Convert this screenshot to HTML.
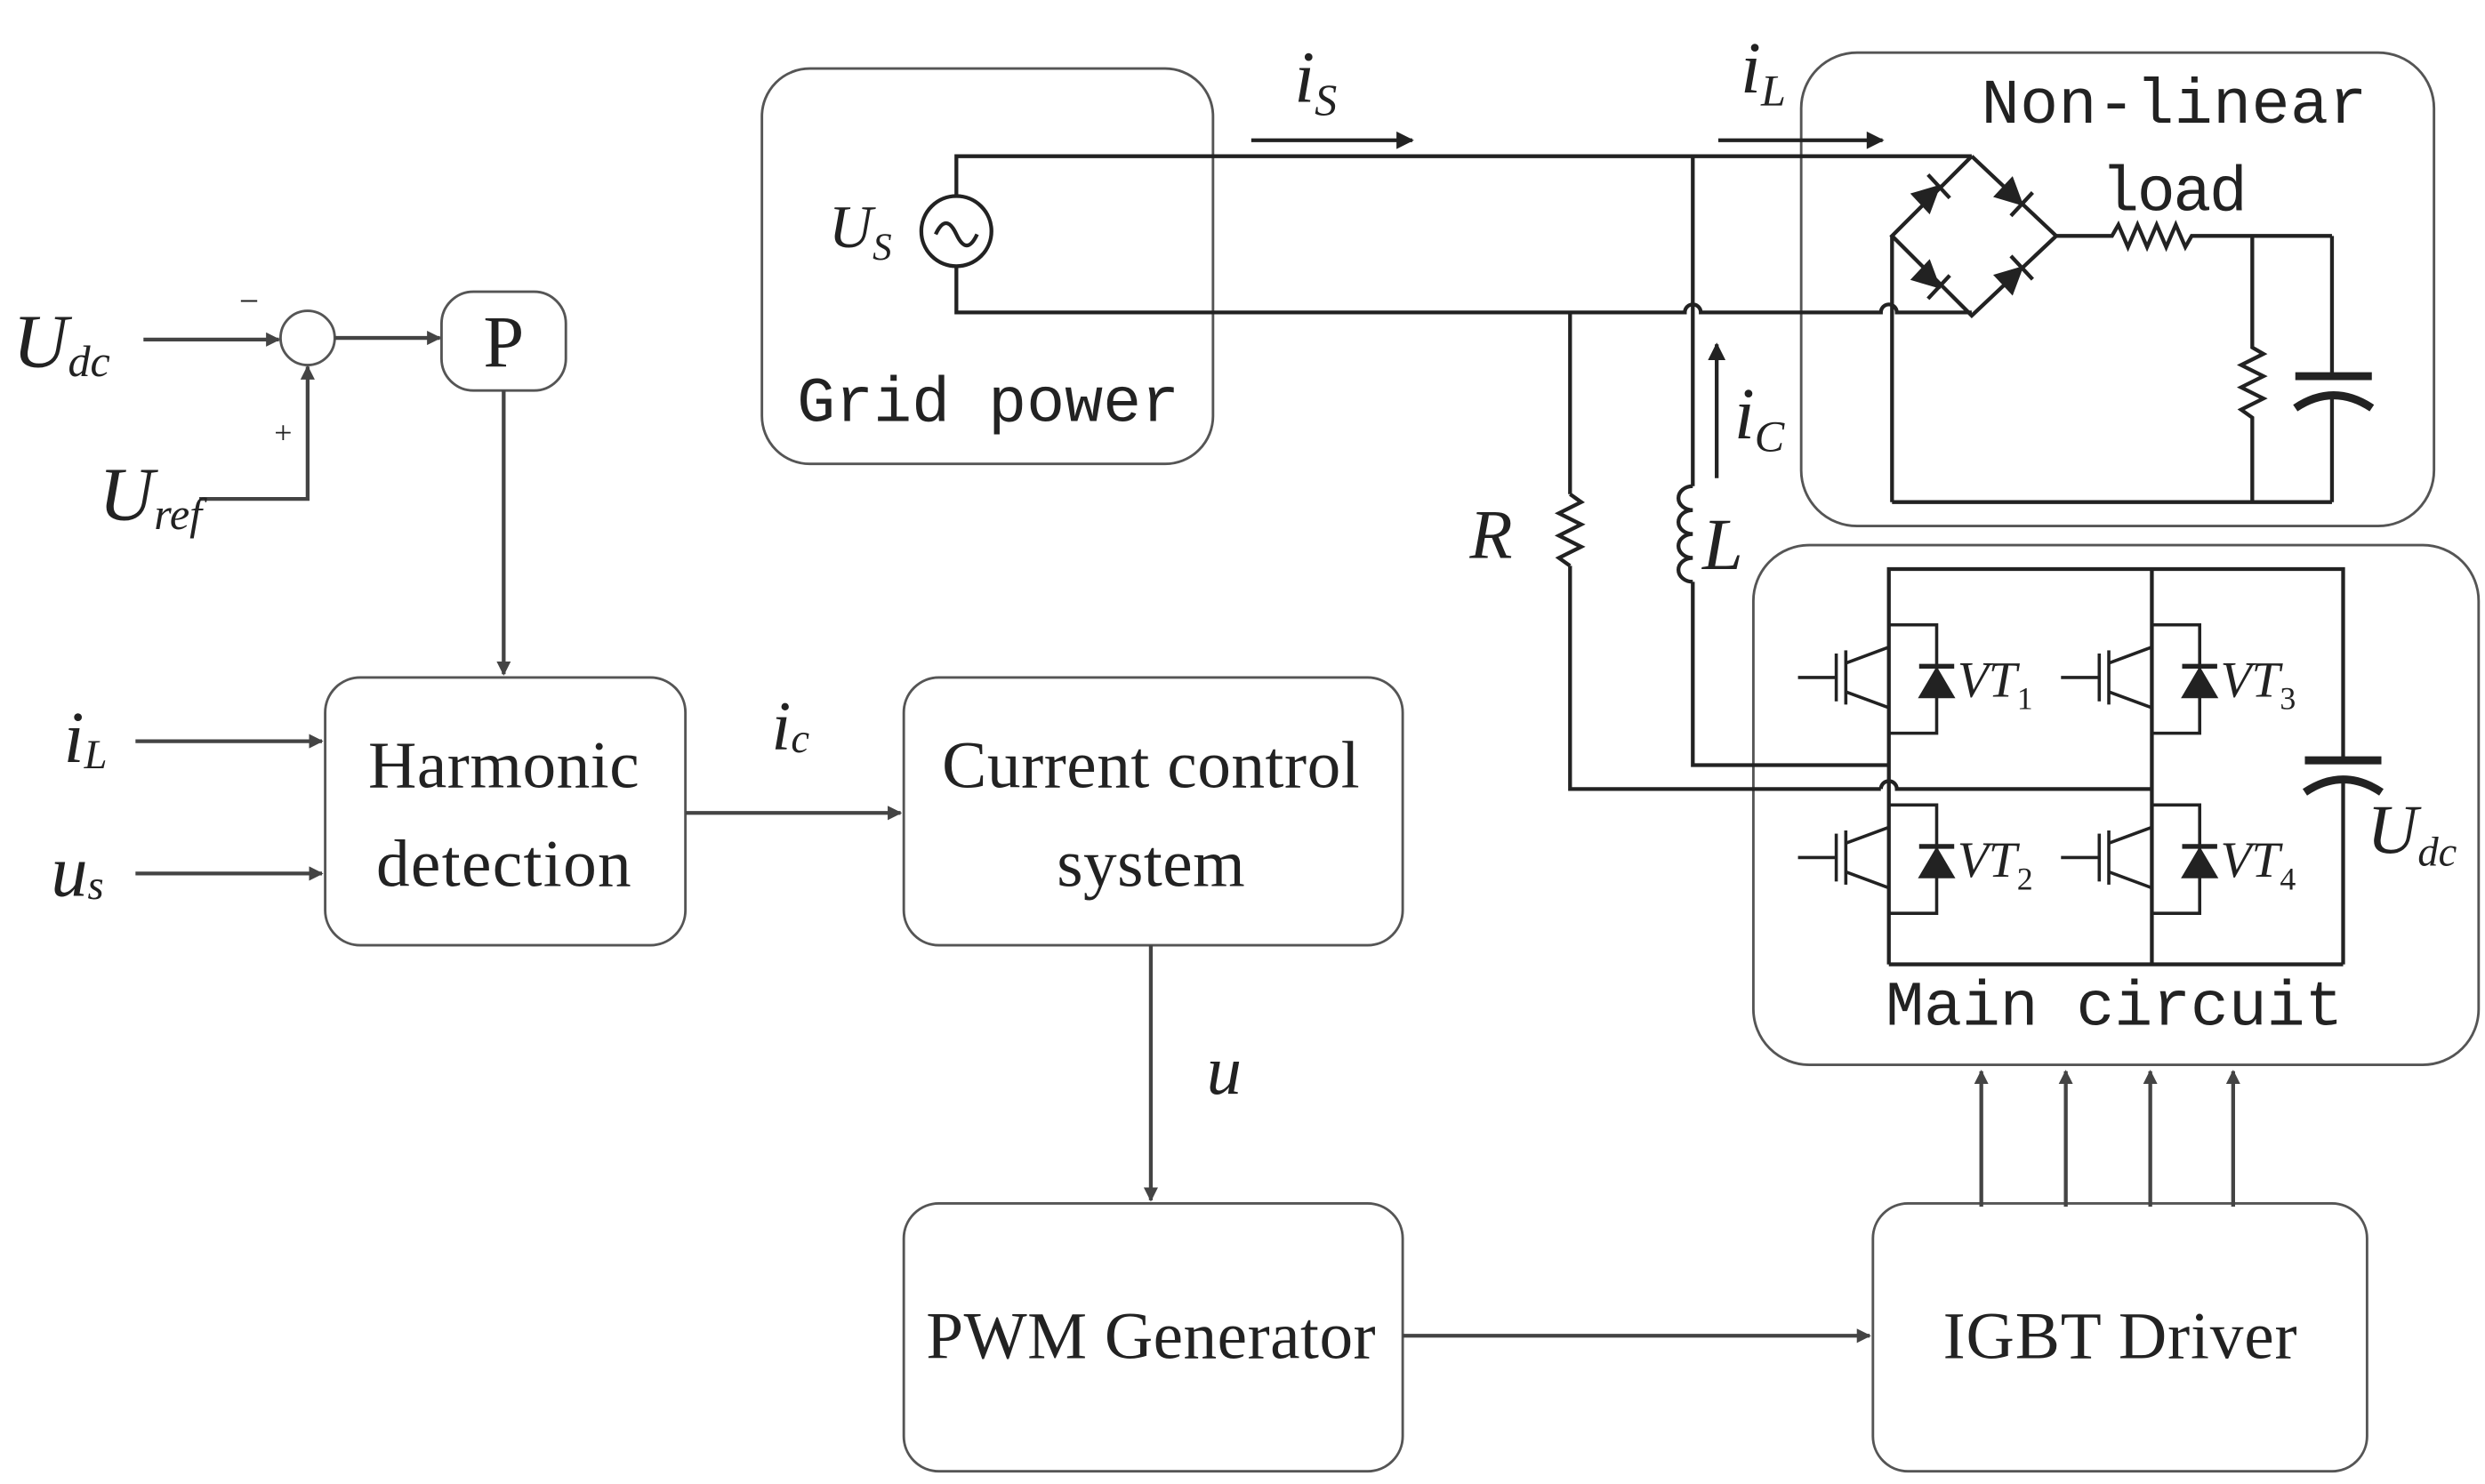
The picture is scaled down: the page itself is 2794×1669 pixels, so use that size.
<!DOCTYPE html>
<html><head><meta charset="utf-8"><style>
html,body{margin:0;padding:0;background:#fff}
svg{display:block}
.s{font-family:"Liberation Serif",serif;fill:#222}
.m{font-family:"Liberation Mono",monospace;fill:#222}
.i{font-style:italic}
</style></head><body>
<svg width="2794" height="1669" viewBox="0 0 1559 931" preserveAspectRatio="none" xmlns="http://www.w3.org/2000/svg">
<defs>
<marker id="a" viewBox="0 0 10 10" refX="9" refY="5" markerWidth="9" markerHeight="9" markerUnits="userSpaceOnUse" orient="auto"><path d="M0,0 L10,5 L0,10 z" fill="#444"/></marker>
<marker id="b" viewBox="0 0 10 10" refX="9" refY="5" markerWidth="14" markerHeight="11" markerUnits="userSpaceOnUse" orient="auto"><path d="M0,0 L10,5 L0,10 z" fill="#222"/></marker>
</defs>
<g fill="none" stroke="#555" stroke-width="1.6">
<rect x="478" y="43" width="283" height="248" rx="30"/>
<rect x="1130" y="33" width="397" height="297" rx="35"/>
<rect x="1100" y="342" width="455" height="326" rx="35"/>
<rect x="277" y="183" width="78" height="62" rx="20"/>
<rect x="204" y="425" width="226" height="168" rx="22"/>
<rect x="567" y="425" width="313" height="168" rx="22"/>
<rect x="567" y="755" width="313" height="168" rx="22"/>
<rect x="1175" y="755" width="310" height="168" rx="22"/>
<circle cx="193" cy="212" r="17"/>
</g>
<g stroke="#444" stroke-width="2.4" fill="none" marker-end="url(#a)">
<line x1="90" y1="213" x2="175" y2="213"/>
<line x1="210" y1="212" x2="276" y2="212"/>
<polyline points="125,313 193,313 193,230"/>
<line x1="316" y1="245" x2="316" y2="423"/>
<line x1="85" y1="465" x2="202" y2="465"/>
<line x1="85" y1="548" x2="202" y2="548"/>
<line x1="430" y1="510" x2="565" y2="510"/>
<line x1="722" y1="593" x2="722" y2="753"/>
<line x1="880" y1="838" x2="1173" y2="838"/>
<line x1="1243" y1="757" x2="1243" y2="672"/>
<line x1="1296" y1="757" x2="1296" y2="672"/>
<line x1="1349" y1="757" x2="1349" y2="672"/>
<line x1="1401" y1="757" x2="1401" y2="672"/>
</g>
<text x="8" y="230" class="s i" font-size="48">U<tspan font-size="28" dy="6">dc</tspan></text>
<text x="150" y="196" class="s" font-size="22">−</text>
<text x="172" y="278" class="s" font-size="20">+</text>
<text x="62" y="326" class="s i" font-size="48">U<tspan font-size="28" dy="6">ref</tspan></text>
<text x="316" y="230" class="s" font-size="46" text-anchor="middle">P</text>
<text x="40" y="478" class="s i" font-size="46">i<tspan font-size="26" dy="4">L</tspan></text>
<text x="32" y="562" class="s i" font-size="46">u<tspan font-size="26" dy="2">s</tspan></text>
<text x="484" y="470" class="s i" font-size="44">i<tspan font-size="26" dy="2">c</tspan></text>
<text x="757" y="686" class="s i" font-size="44">u</text>
<text x="316" y="494" class="s" font-size="42" text-anchor="middle" textLength="170">Harmonic</text>
<text x="316" y="556" class="s" font-size="42" text-anchor="middle" textLength="160">detection</text>
<text x="722" y="494" class="s" font-size="42" text-anchor="middle" textLength="262">Current control</text>
<text x="722" y="556" class="s" font-size="42" text-anchor="middle" textLength="118">system</text>
<text x="722" y="852" class="s" font-size="42" text-anchor="middle" textLength="282">PWM Generator</text>
<text x="1330" y="852" class="s" font-size="42" text-anchor="middle" textLength="222">IGBT Driver</text>
<text x="500" y="264" class="m" font-size="40" textLength="240">Grid power</text>
<text x="1243" y="77" class="m" font-size="40" textLength="242">Non-linear</text>
<text x="1318" y="132" class="m" font-size="40" textLength="92">load</text>
<text x="1183" y="643" class="m" font-size="40" textLength="287">Main circuit</text>
<g stroke="#222" stroke-width="2.4" fill="none">
<circle cx="600" cy="145" r="22"/>
<path d="M587,147 q6.5,-14 13,0 t13,0"/>
<polyline points="600,123 600,98 1237,98"/>
<path d="M600,167 L600,196 L1057,196 a5,5 0 0 1 10,0 L1180,196 a5,5 0 0 1 10,0 L1237,196"/>
<line x1="1062" y1="98" x2="1062" y2="305"/>
<path d="M1062,305 a9,7.5 0 0 0 0,15 a9,7.5 0 0 0 0,15 a9,7.5 0 0 0 0,15 a9,7.5 0 0 0 0,15"/>
<polyline points="1062,365 1062,480 1185,480"/>
<line x1="985" y1="196" x2="985" y2="310"/>
<polyline points="985,310 992,315 978,322 992,329 978,336 992,343 978,350 985,355"/>
<polyline points="985,355 985,495 1180,495"/>
<path d="M1180,495 a5,5 0 0 1 10,0 L1350,495"/>
<polyline points="1237,98 1290,148 1237,198 1187,148 1237,98"/>
<line x1="1187" y1="148" x2="1187" y2="315"/>
<polyline points="1290,148 1325,148 1329,141 1335,155 1341,141 1347,155 1353,141 1359,155 1365,141 1371,155 1375,148 1463,148"/>
<polyline points="1413,148 1413,218 1420,222 1406,229 1420,236 1406,243 1420,250 1406,257 1413,262 1413,315"/>
<polyline points="1463,148 1463,237"/>
<line x1="1463" y1="248" x2="1463" y2="315"/>
<line x1="1187" y1="315" x2="1463" y2="315"/>
<polyline points="1185,605 1185,357 1470,357 1470,478"/>
<line x1="1470" y1="490" x2="1470" y2="605"/>
<line x1="1185" y1="605" x2="1470" y2="605"/>
<line x1="1350" y1="357" x2="1350" y2="605"/>
</g>
<g stroke="#222" stroke-width="5" fill="none">
<line x1="1440" y1="236" x2="1488" y2="236"/>
<path d="M1440,256 q24,-16 48,0"/>
<line x1="1446" y1="477" x2="1494" y2="477"/>
<path d="M1446,497 q24,-16 48,0"/>
</g>
<g fill="#222" stroke="#222" stroke-width="2.4">
<g transform="translate(1212,121) rotate(-43)"><path d="M-9,-7 L-9,7 L5,0 z"/><line x1="6" y1="-10" x2="6" y2="10"/></g>
<g transform="translate(1264,124) rotate(43)"><path d="M-9,-7 L-9,7 L5,0 z"/><line x1="6" y1="-10" x2="6" y2="10"/></g>
<g transform="translate(1212,176) rotate(43)"><path d="M-9,-7 L-9,7 L5,0 z"/><line x1="6" y1="-10" x2="6" y2="10"/></g>
<g transform="translate(1264,172) rotate(-43)"><path d="M-9,-7 L-9,7 L5,0 z"/><line x1="6" y1="-10" x2="6" y2="10"/></g>
</g>
<g id="ig" stroke="#222" stroke-width="2" fill="none">
<line x1="1128" y1="425" x2="1152" y2="425"/>
<line x1="1152" y1="410" x2="1152" y2="440"/>
<line x1="1158" y1="408" x2="1158" y2="442"/>
<polyline points="1158,416 1185,406"/>
<polyline points="1158,434 1185,444"/>
<polyline points="1185,392 1215,392 1215,460 1185,460"/>
<line x1="1204" y1="418" x2="1226" y2="418" stroke-width="3"/>
<path d="M1205,437 L1225,437 L1215,420 z" fill="#222"/>
</g>
<use href="#ig" transform="translate(0,113)"/>
<use href="#ig" transform="translate(165,0)"/>
<use href="#ig" transform="translate(165,113)"/>
<text x="1228" y="437" class="s i" font-size="32">VT<tspan font-size="20" dy="8" font-style="normal">1</tspan></text>
<text x="1393" y="437" class="s i" font-size="32">VT<tspan font-size="20" dy="8" font-style="normal">3</tspan></text>
<text x="1228" y="550" class="s i" font-size="32">VT<tspan font-size="20" dy="8" font-style="normal">2</tspan></text>
<text x="1393" y="550" class="s i" font-size="32">VT<tspan font-size="20" dy="8" font-style="normal">4</tspan></text>
<text x="1485" y="535" class="s i" font-size="44">U<tspan font-size="26" dy="8">dc</tspan></text>
<g stroke="#222" stroke-width="2.4" marker-end="url(#b)">
<line x1="785" y1="88" x2="886" y2="88"/>
<line x1="1078" y1="88" x2="1181" y2="88"/>
<line x1="1077" y1="300" x2="1077" y2="216"/>
</g>
<text x="812" y="64" class="s i" font-size="46">i<tspan font-size="28" dy="8">S</tspan></text>
<text x="1092" y="58" class="s i" font-size="46">i<tspan font-size="28" dy="8">L</tspan></text>
<text x="1088" y="275" class="s i" font-size="46">i<tspan font-size="28" dy="8">C</tspan></text>
<text x="520" y="155" class="s i" font-size="38">U<tspan font-size="24" dy="8">S</tspan></text>
<text x="922" y="350" class="s i" font-size="44">R</text>
<text x="1068" y="357" class="s i" font-size="46">L</text>
</svg>
</body></html>
